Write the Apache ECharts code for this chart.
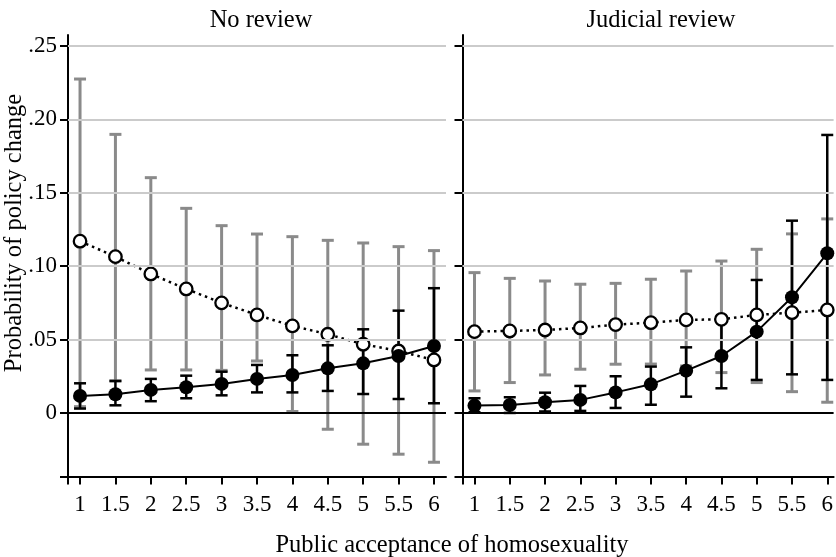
<!DOCTYPE html>
<html>
<head>
<meta charset="utf-8">
<script src="https://cdn.jsdelivr.net/npm/echarts@6/dist/echarts.min.js"></script>
<style>html,body{margin:0;padding:0;background:#fff}#c{width:836px;height:557px}</style>
</head>
<body>
<div id="c"></div>
<script>
// ---- data ----
const xValues = [1, 1.5, 2, 2.5, 3, 3.5, 4, 4.5, 5, 5.5, 6];
const xTickLabels = ['1', '1.5', '2', '2.5', '3', '3.5', '4', '4.5', '5', '5.5', '6'];
const yTickValues = [0, 0.05, 0.10, 0.15, 0.20, 0.25];
const yTickLabels = ['0', '.05', '.10', '.15', '.20', '.25'];
const panelTitles = ['No review', 'Judicial review'];
const xAxisTitle = 'Public acceptance of homosexuality';
const yAxisTitle = 'Probability of policy change';

// No review panel
const noRevOpenMean  = [0.117, 0.1065, 0.0947, 0.0845, 0.075, 0.0668, 0.0593, 0.0536, 0.0468, 0.0422, 0.0361];
const noRevOpenLow   = [0.0043, 0.0218, 0.0293, 0.0293, 0.029, 0.0354, 0.001, -0.0111, -0.0213, -0.0281, -0.0336];
const noRevOpenHigh  = [0.2275, 0.1898, 0.1603, 0.1394, 0.1276, 0.1219, 0.1201, 0.1176, 0.1158, 0.1133, 0.1106];
const noRevFillMean  = [0.0116, 0.0127, 0.0157, 0.0175, 0.0198, 0.0232, 0.0259, 0.0304, 0.0338, 0.0388, 0.0456];
const noRevFillLow   = [0.003, 0.0052, 0.008, 0.010, 0.012, 0.014, 0.014, 0.015, 0.0129, 0.0095, 0.0066];
const noRevFillHigh  = [0.0202, 0.0218, 0.0232, 0.0254, 0.0281, 0.0327, 0.0393, 0.0461, 0.057, 0.0697, 0.085];

// Judicial review panel
const judOpenMean  = [0.0554, 0.0559, 0.0565, 0.0579, 0.0602, 0.0615, 0.0634, 0.0638, 0.0668, 0.0683, 0.0702];
const judOpenLow   = [0.015, 0.0207, 0.0259, 0.0298, 0.0332, 0.0333, 0.032, 0.0275, 0.0207, 0.0145, 0.0073];
const judOpenHigh  = [0.0956, 0.0917, 0.0899, 0.0877, 0.0883, 0.0911, 0.0967, 0.1035, 0.1115, 0.122, 0.1322];
const judFillMean  = [0.005, 0.0054, 0.0073, 0.0089, 0.014, 0.0195, 0.0288, 0.0388, 0.0554, 0.0788, 0.1088];
const judFillLow   = [0.0005, 0.0, 0.001, 0.0014, 0.0034, 0.0056, 0.0111, 0.0168, 0.0225, 0.0263, 0.0225];
const judFillHigh  = [0.010, 0.0107, 0.0138, 0.0184, 0.025, 0.0316, 0.0447, 0.062, 0.0906, 0.131, 0.1894];

// ---- chart ----
const FONT = "'Liberation Serif','Times New Roman',serif";
const X_MIN = 0.83;
const X_MAX = [6.17, 6.09];
const Y_MIN = -0.0433, Y_MAX = 0.2575;
const GRAY = '#8a8a8a';

function pts(means) { return xValues.map((x, i) => [x, means[i]]); }
function bars(lo, hi) { return xValues.map((x, i) => [x, lo[i], hi[i]]); }

function errRender(color, width, half) {
  return function (params, api) {
    const x = api.value(0), lo = api.value(1), hi = api.value(2);
    const a = api.coord([x, lo]), b = api.coord([x, hi]);
    const st = { stroke: color, lineWidth: width, lineCap: 'butt' };
    return {
      type: 'group',
      children: [
        { type: 'line', shape: { x1: a[0], y1: a[1], x2: b[0], y2: b[1] }, style: st },
        { type: 'line', shape: { x1: a[0] - half, y1: a[1], x2: a[0] + half, y2: a[1] }, style: st },
        { type: 'line', shape: { x1: b[0] - half, y1: b[1], x2: b[0] + half, y2: b[1] }, style: st }
      ]
    };
  };
}

function xAxisFor(g) {
  return {
    type: 'value', gridIndex: g, min: X_MIN, max: X_MAX[g],
    axisLine: { show: true, onZero: false, lineStyle: { color: '#000', width: 2 } },
    axisTick: { show: true, length: 8, customValues: [X_MIN].concat(xValues), lineStyle: { color: '#000', width: 2 } },
    axisLabel: {
      customValues: xValues, margin: 17, color: '#000', fontFamily: FONT, fontSize: 23,
      formatter: v => { const i = xValues.indexOf(v); return i >= 0 ? xTickLabels[i] : ''; }
    },
    splitLine: { show: false }
  };
}
function yAxisFor(g, showLabels) {
  return {
    type: 'value', gridIndex: g, min: Y_MIN, max: Y_MAX,
    axisLine: { show: true, onZero: false, lineStyle: { color: '#000', width: 2 } },
    axisTick: { show: true, length: 8, customValues: [Y_MIN].concat(yTickValues), lineStyle: { color: '#000', width: 2 } },
    axisLabel: {
      show: showLabels, customValues: yTickValues, margin: 11, color: '#000', fontFamily: FONT, fontSize: 23,
      formatter: v => { const i = yTickValues.indexOf(v); return i >= 0 ? yTickLabels[i] : ''; }
    },
    splitLine: { show: false }
  };
}

function panelSeries(g, openMean, openLow, openHigh, fillMean, fillLow, fillHigh) {
  return [
    {
      type: 'line', xAxisIndex: g, yAxisIndex: g, data: [], silent: true, z: 1,
      markLine: {
        silent: true, symbol: ['none', 'none'], label: { show: false },
        animation: false,
        data: yTickValues.filter(v => v !== 0).map(v => ({ yAxis: v, lineStyle: { color: '#cbcbcb', width: 2, type: 'solid' } }))
          .concat([{ yAxis: 0, lineStyle: { color: '#000', width: 2, type: 'solid' } }])
      }
    },
    {
      type: 'custom', xAxisIndex: g, yAxisIndex: g, z: 2, silent: true,
      renderItem: errRender(GRAY, 3, 6), encode: { x: 0, y: [1, 2] },
      data: bars(openLow, openHigh)
    },
    {
      type: 'custom', xAxisIndex: g, yAxisIndex: g, z: 3, silent: true,
      renderItem: errRender('#000', 2.5, 6), encode: { x: 0, y: [1, 2] },
      data: bars(fillLow, fillHigh)
    },
    {
      type: 'line', xAxisIndex: g, yAxisIndex: g, z: 4, data: pts(openMean),
      symbol: 'circle', symbolSize: 12.5, showAllSymbol: true,
      lineStyle: { color: '#000', width: 2.5, type: [2.5, 4] },
      itemStyle: { color: '#fff', borderColor: '#000', borderWidth: 2.3 }
    },
    {
      type: 'line', xAxisIndex: g, yAxisIndex: g, z: 5, data: pts(fillMean),
      symbol: 'circle', symbolSize: 14, showAllSymbol: true,
      lineStyle: { color: '#000', width: 2 },
      itemStyle: { color: '#000', borderColor: '#000', borderWidth: 0 }
    }
  ];
}

const chart = echarts.init(document.getElementById('c'), null, { renderer: 'canvas' });
chart.setOption({
  animation: false,
  backgroundColor: '#fff',
  grid: [
    { left: 68, top: 35, width: 378, height: 441.5 },
    { left: 462.5, top: 35, width: 373.5, height: 441.5 }
  ],
  title: [
    { text: panelTitles[0], left: 256, top: 3, textAlign: 'center', textStyle: { fontFamily: FONT, fontSize: 24.5, fontWeight: 'normal', color: '#000' } },
    { text: panelTitles[1], left: 656, top: 3, textAlign: 'center', textStyle: { fontFamily: FONT, fontSize: 24.5, fontWeight: 'normal', color: '#000' } },
    { text: xAxisTitle, left: 447, top: 528, textAlign: 'center', textStyle: { fontFamily: FONT, fontSize: 24.5, fontWeight: 'normal', color: '#000' } }
  ],
  graphic: [
    { type: 'text', x: 15, y: 233, rotation: Math.PI / 2,
      style: { text: yAxisTitle, font: '24.5px ' + FONT, fill: '#000', align: 'center', verticalAlign: 'middle' } }
  ],
  xAxis: [xAxisFor(0), xAxisFor(1)],
  yAxis: [yAxisFor(0, true), yAxisFor(1, false)],
  series: panelSeries(0, noRevOpenMean, noRevOpenLow, noRevOpenHigh, noRevFillMean, noRevFillLow, noRevFillHigh)
    .concat(panelSeries(1, judOpenMean, judOpenLow, judOpenHigh, judFillMean, judFillLow, judFillHigh))
});
</script>
</body>
</html>
